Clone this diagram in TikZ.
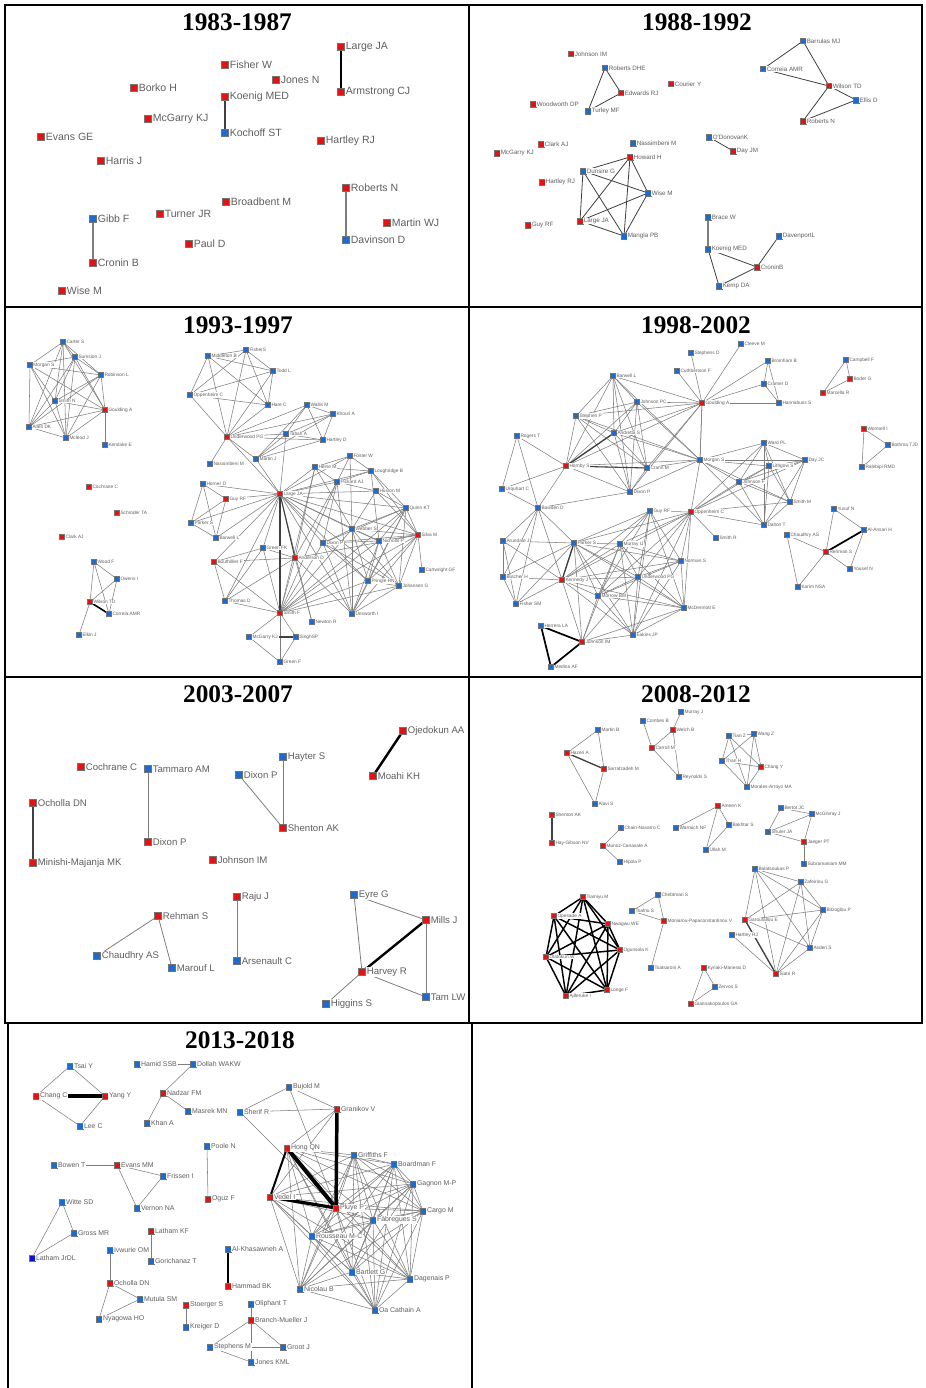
\documentclass[tikz,border=0pt]{standalone}
\usepackage{fontspec}
\setmainfont{Liberation Serif}
\newfontfamily\labf{Liberation Sans}
\definecolor{nred}{RGB}{228,18,18}
\definecolor{nblue}{RGB}{28,108,208}
\definecolor{ndblue}{RGB}{10,20,200}
\definecolor{labgray}{RGB}{95,95,95}
\definecolor{egray}{RGB}{125,125,125}
\pgfdeclarelayer{bg}
\pgfsetlayers{bg,main}
\tikzset{
 sq/.style={rectangle, draw=black!55, line width=0.25pt, inner sep=0pt, minimum size=3.8pt},
 lab/.style={font=\labf\fontsize{3.6}{4}\selectfont, text=labgray, inner sep=0.5pt, fill=white},
 ed/.style={draw=egray, line width=0.4pt},
 edm/.style={draw=black!75, line width=0.8pt},
 edt/.style={draw=black, line width=1.8pt},
 frame/.style={draw=black, line width=1pt},
 ttl/.style={font=\bfseries\fontsize{19}{20}\selectfont, inner sep=0pt},
}
\newcommand\redn[4]{\node[sq,fill=nred,label={[lab]east:#4}] (#1) at (#2,#3) {};}
\newcommand\bluen[4]{\node[sq,fill=nblue,label={[lab]east:#4}] (#1) at (#2,#3) {};}
\newcommand\myclique[2]{\foreach \ma [count=\mi] in {#2}{\foreach \mb [count=\mj] in {#2}{\ifnum\mj>\mi\relax\draw[#1] (\ma)--(\mb);\fi}}}
\newcommand\myedges[2]{\foreach \ma/\mb in {#2}{\draw[#1] (\ma)--(\mb);}}
\begin{document}
\begin{tikzpicture}[x=0.75pt,y=-0.75pt]
\useasboundingbox (0,0) rectangle (925,1388);
\begin{pgfonlayer}{bg}
\fill[white] (0,0) rectangle (925,1388);
\end{pgfonlayer}
% table frame
\draw[frame] (5,5) rectangle (922,1023);
\draw[frame] (469,5)--(469,1023);
\draw[frame] (5,307)--(922,307);
\draw[frame] (5,677)--(922,677);
\draw[frame] (8,1023)--(8,1388);
\draw[frame] (472,1023)--(472,1388);
% titles
\node[ttl] (t1) at (237,22) {1983-1987};
\node[ttl] (t2) at (697,22) {1988-1992};
\node[ttl] (t3) at (238,325) {1993-1997};
\node[ttl] (t4) at (696,325) {1998-2002};
\node[ttl] (t5) at (238,694) {2003-2007};
\node[ttl] (t6) at (696,694) {2008-2012};
\node[ttl] (t7) at (240,1040) {2013-2018};

% ---------- panel 1 ----------
\begin{scope}[sq/.append style={minimum size=5.2pt}, lab/.append style={font=\labf\fontsize{7.9}{8}\selectfont, inner sep=0.7pt}]
\redn{aLarge}{341}{47}{Large JA}
\redn{aFisher}{225}{65}{Fisher W}
\redn{aJones}{276}{80}{Jones N}
\redn{aBorko}{134}{88}{Borko H}
\redn{aKoenig}{225}{97}{Koenig MED}
\redn{aArm}{341}{92}{Armstrong CJ}
\redn{aMcG}{148}{119}{McGarry KJ}
\bluen{aKoch}{225}{133}{Kochoff ST}
\redn{aEvans}{41}{137}{Evans GE}
\redn{aHart}{321}{141}{Hartley RJ}
\redn{aHarris}{101}{161}{Harris J}
\redn{aRob}{346}{188}{Roberts N}
\redn{aBroad}{226}{202}{Broadbent M}
\redn{aTurner}{160}{214}{Turner JR}
\bluen{aGibb}{93}{219}{Gibb F}
\redn{aMartin}{387}{223}{Martin WJ}
\redn{aPaul}{189}{244}{Paul D}
\bluen{aDav}{346}{240}{Davinson D}
\redn{aCronin}{93}{263}{Cronin B}
\redn{aWise}{62}{291}{Wise M}
\begin{pgfonlayer}{bg}
\draw[edt] (aLarge)--(aArm);
\draw[edm] (aKoenig)--(aKoch);
\draw[ed,line width=0.9pt] (aGibb)--(aCronin);
\draw[ed,line width=0.9pt] (aRob)--(aDav);
\end{pgfonlayer}
\end{scope}

% ---------- panel 2 ----------
\begin{scope}[sq/.append style={minimum size=4pt}, lab/.append style={font=\labf\fontsize{4.7}{5}\selectfont}]
\redn{bJohnIM}{571}{54}{Johnson IM}
\bluen{bRobDHE}{605}{68}{Roberts DHE}
\redn{bEdw}{621}{93}{Edwards RJ}
\bluen{bTurley}{588}{111}{Turley MF}
\redn{bWood}{533}{104}{Woodworth DP}
\redn{bCourier}{671}{84}{Courier Y}
\bluen{bBarr}{803}{41}{Barrulas MJ}
\bluen{bCorr}{763}{69}{Correia AMR}
\redn{bWilson}{829}{86}{Wilson TD}
\bluen{bEllis}{856}{100}{Ellis D}
\redn{bRobN}{803}{121}{Roberts N}
\bluen{bODon}{709}{137}{O'DonovanK}
\redn{bDay}{733}{151}{Day JM}
\redn{bClark}{541}{144}{Clark AJ}
\bluen{bNass}{633}{143}{Nassimbeni M}
\redn{bMcG}{497}{153}{McGarry KJ}
\redn{bHoward}{630}{157}{Howard H}
\bluen{bDuns}{583}{171}{Dunsire G}
\redn{bHart}{542}{182}{Hartley RJ}
\bluen{bWise}{648}{193}{Wise M}
\redn{bLarge}{580}{221}{Large JA}
\redn{bGuy}{528}{225}{Guy RF}
\bluen{bMangla}{624}{236}{Mangla PB}
\bluen{bBrace}{708}{217}{Brace W}
\bluen{bKoenig}{708}{249}{Koenig MED}
\bluen{bDaven}{779}{236}{DavenportL}
\redn{bCronin}{757}{267}{CroninB}
\bluen{bKemp}{719}{286}{Kemp DA}
\begin{pgfonlayer}{bg}
\myedges{edm,line width=0.6pt}{bRobDHE/bEdw,bRobDHE/bTurley,bEdw/bTurley,bBarr/bCorr,bBarr/bWilson,bCorr/bWilson,bWilson/bEllis,bWilson/bRobN,bEllis/bRobN,bODon/bDay,bKoenig/bCronin,bKoenig/bKemp,bCronin/bKemp,bCronin/bDaven}
\myclique{edm,line width=0.6pt}{bHoward,bDuns,bWise,bLarge,bMangla}
\draw[ed,line width=0.8pt] (bBrace)--(bKoenig);
\end{pgfonlayer}
\end{scope}

% ---------- panel 3 ----------
\begin{scope}[sq/.append style={minimum size=3.6pt}]
\bluen{cCarter}{63}{342}{Carter S}
\bluen{cSums}{75}{357}{Sumsion J}
\bluen{cMorgan}{30}{365}{Morgan S}
\bluen{cRob}{101}{375}{Robinson L}
\bluen{cSmithN}{55}{401}{Smith N}
\redn{cGould}{105}{410}{Goulding A}
\bluen{cAllen}{29}{427}{Allen DK}
\bluen{cMcleod}{66}{438}{Mcleod J}
\bluen{cKers}{105}{445}{Kerslake E}
\redn{cCochrane}{89}{487}{Cochrane C}
\redn{cSchroder}{117}{513}{Schroder TA}
\redn{cClark}{62}{537}{Clark AJ}
\bluen{cWood}{94}{562}{Wood F}
\bluen{cOwens}{117}{579}{Owens I}
\redn{cWilson}{90}{602}{Wilson TD}
\bluen{cCorreia}{109}{614}{Correia AMR}
\bluen{cElkin}{79}{635}{Elkin J}
\bluen{cFisherS}{246}{350}{FisherS}
\bluen{cMidd}{208}{356}{Middleton B}
\bluen{cTodd}{273}{371}{Todd L}
\bluen{cOpp}{190}{395}{Oppenheim C}
\bluen{cHare}{268}{405}{Hare C}
\bluen{cWallis}{307}{405}{Wallis M}
\bluen{cKhouri}{333}{414}{Khouri A}
\redn{cUnder}{227}{437}{Underwood PG}
\bluen{cTabah}{286}{434}{Tabah A}
\bluen{cHartD}{323}{440}{Hartley D}
\bluen{cMartin}{256}{459}{Martin J}
\bluen{cNass}{210}{464}{Nassimbeni M}
\bluen{cFoster}{350}{456}{Foster W}
\bluen{cHeine}{315}{467}{Heine M}
\bluen{cLough}{371}{471}{Loughridge B}
\bluen{cPick}{337}{482}{Pickard AJ}
\bluen{cHorner}{203}{484}{Horner D}
\redn{cLarge}{280}{494}{Large JA}
\bluen{cHuston}{376}{491}{Huston M}
\redn{cGuy}{226}{499}{Guy RF}
\bluen{cQuinn}{406}{508}{Quinn KT}
\bluen{cParker}{191}{523}{Parker S}
\bluen{cWebber}{352}{529}{Webber S}
\redn{cSilva}{418}{535}{Silva M}
\bluen{cBarwell}{216}{538}{Barwell L}
\bluen{cNich}{379}{541}{Nicholls P}
\bluen{cDixon}{323}{543}{Dixon P}
\bluen{cGreenFK}{263}{548}{Green FK}
\redn{cAnd}{295}{558}{Anderson D}
\redn{cBouth}{214}{562}{Bouthillier F}
\bluen{cCart}{422}{570}{Cartwright GF}
\bluen{cPringle}{368}{581}{Pringle RN}
\bluen{cJoh}{399}{586}{Johansen G}
\bluen{cThomas}{225}{601}{Thomas D}
\redn{cSmithF}{280}{613}{Smith F}
\bluen{cUns}{352}{614}{Unsworth I}
\bluen{cNewton}{312}{622}{Newton R}
\bluen{cMcG}{249}{637}{McGarry KJ}
\bluen{cSingh}{296}{637}{SinghSP}
\bluen{cGreenF}{280}{662}{Green F}
\begin{pgfonlayer}{bg}
\myclique{ed}{cCarter,cSums,cMorgan,cRob,cSmithN,cGould,cAllen,cMcleod}
\myedges{ed}{cGould/cKers,cWood/cOwens,cWood/cWilson,cWood/cCorreia,cOwens/cWilson,cOwens/cCorreia,cWilson/cElkin}
\draw[edt,line width=1.2pt] (cWilson)--(cCorreia);
\myclique{ed}{cMidd,cFisherS,cTodd,cOpp,cHare,cUnder}
\myclique{ed}{cWallis,cKhouri,cTabah,cHartD,cMartin,cUnder}
\myclique{ed}{cHorner,cGuy,cParker,cBarwell}
\myclique{ed}{cBouth,cThomas,cSmithF,cGreenFK,cAnd}
\myclique{ed}{cSmithF,cMcG,cSingh,cGreenF}
\myclique{ed}{cHeine,cFoster,cLough,cPick}
\myclique{ed}{cQuinn,cWebber,cSilva,cNich,cPringle,cJoh,cUns,cDixon}
\myedges{ed}{cUnder/cNass,cUnder/cLarge,cTabah/cLarge,cMartin/cLarge,cLarge/cHorner,cLarge/cGuy,cLarge/cParker,cLarge/cBarwell,cLarge/cGreenFK,cLarge/cHeine,cLarge/cPick,cLarge/cHuston,cLarge/cQuinn,cLarge/cWebber,cLarge/cSilva,cLarge/cNich,cLarge/cDixon,cLarge/cPringle,cLarge/cJoh,cLarge/cUns,cLarge/cNewton,cLarge/cBouth,cLarge/cFoster,cLarge/cLough,cLarge/cThomas,cSmithF/cWebber,cSmithF/cSilva,cSmithF/cPringle,cSmithF/cJoh,cSmithF/cDixon,cSmithF/cNich,cSmithF/cQuinn,cSmithF/cPick,cSmithF/cHeine,cAnd/cNewton,cAnd/cUns,cAnd/cHeine,cAnd/cPick,cAnd/cSilva,cSilva/cCart,cSilva/cHuston,cSilva/cLough,cHuston/cQuinn,cHuston/cWebber,cPick/cHuston,cPick/cDixon,cPick/cUns,cHeine/cWebber,cLough/cQuinn,cLough/cNich,cFoster/cWebber}
\draw[edm] (cLarge)--(cAnd);
\draw[edm,line width=1.1pt] (cLarge)--(cSmithF);
\draw[edm] (cMcG)--(cSingh);
\end{pgfonlayer}
\end{scope}

% ---------- panel 4 ----------
\begin{scope}[sq/.append style={minimum size=3.6pt}]
\bluen{dStephD}{691}{353}{Stephens D}
\bluen{dCuth}{677}{371}{Cuthbertson F}
\bluen{dBarwell}{613}{376}{Barwell L}
\redn{dGould}{702}{403}{Goulding A}
\bluen{dJohnPC}{637}{402}{Johnson PC}
\bluen{dStephP}{576}{416}{Stephen P}
\bluen{dRogers}{517}{436}{Rogers T}
\bluen{dAndretta}{614}{433}{Andretta S}
\redn{dHornby}{566}{466}{Hornby S}
\bluen{dCrann}{647}{468}{Crann M}
\bluen{dMorgan}{700}{460}{Morgan S}
\bluen{dUrq}{502}{489}{Urquhart C}
\bluen{dDixon}{630}{492}{Dixon P}
\bluen{dCleeve}{741}{344}{Cleeve M}
\bluen{dBromham}{768}{361}{Bromham B}
\bluen{dCramer}{764}{384}{Cramer D}
\bluen{dHanna}{779}{403}{Hannabuss S}
\bluen{dCampbell}{846}{360}{Campbell F}
\redn{dBoder}{850}{379}{Boder G}
\redn{dMarcella}{823}{393}{Marcella R}
\redn{dWormell}{864}{429}{Wormell I}
\bluen{dBothma}{888}{445}{Bothma TJD}
\bluen{dWard}{764}{443}{Ward PL}
\bluen{dDay}{805}{460}{Day JC}
\bluen{dLith}{769}{466}{Lithgow S}
\bluen{dRaleb}{862}{467}{Ralebipi RMD}
\bluen{dJohnF}{739}{482}{Johnson F}
\bluen{dSmithM}{790}{502}{Smith M}
\bluen{dYusuf}{834}{509}{Yusuf N}
\bluen{dAlAns}{864}{530}{Al-Ansari H}
\bluen{dDalton}{764}{525}{Dalton T}
\bluen{dChaud}{787}{535}{Chaudhry AS}
\bluen{dSmithR}{716}{538}{Smith R}
\redn{dRehman}{826}{552}{Rehman S}
\bluen{dYousef}{850}{569}{Yousef N}
\bluen{dKarim}{798}{587}{Karim NSA}
\bluen{dBawden}{538}{508}{Bawden D}
\bluen{dGuy}{650}{511}{Guy RF}
\redn{dOpp}{691}{512}{Oppenheim C}
\bluen{dArund}{503}{541}{Arundale J}
\bluen{dParker}{574}{543}{Parker S}
\bluen{dMurray}{620}{544}{Murray IJ}
\bluen{dNorman}{681}{561}{Norman S}
\bluen{dButcher}{503}{577}{Butcher H}
\redn{dKennedy}{562}{580}{Kennedy J}
\bluen{dUnder}{638}{577}{Underwood PG}
\bluen{dMorrow}{598}{596}{Morrow BM}
\bluen{dFisher}{516}{604}{Fisher SM}
\bluen{dMcDer}{684}{608}{McDermott E}
\bluen{dHerrera}{541}{626}{Herrera LA}
\bluen{dEakins}{633}{635}{Eakins JP}
\redn{dJohnIM}{582}{642}{Johnson IM}
\bluen{dMedina}{551}{667}{Medina AF}
\begin{pgfonlayer}{bg}
\myedges{ed}{dCleeve/dGould,dStephD/dGould,dCuth/dGould,dBromham/dGould,dCramer/dGould,dHanna/dGould,dBromham/dCramer,dBromham/dHanna,dCramer/dHanna,dCampbell/dBoder,dCampbell/dMarcella,dBoder/dMarcella,dWormell/dBothma,dWormell/dRaleb,dBothma/dRaleb,dYusuf/dAlAns,dYusuf/dRehman,dAlAns/dYousef,dRehman/dYousef,dRehman/dChaud,dRehman/dKarim,dChaud/dKarim,dRogers/dHornby,dRogers/dUrq,dUrq/dHornby,dRogers/dBawden,dUrq/dBawden,dBawden/dHornby,dBawden/dDixon,dOpp/dSmithR,dGould/dMorgan}
\myclique{ed}{dBarwell,dJohnPC,dStephP,dAndretta,dHornby,dCrann,dDixon,dMorgan,dGould}
\myclique{ed}{dMorgan,dWard,dLith,dJohnF,dDay,dSmithM,dOpp,dDalton}
\myclique{ed}{dParker,dKennedy,dMurray,dUnder,dMorrow,dGuy,dOpp,dNorman,dMcDer,dEakins}
\myclique{ed}{dBawden,dArund,dButcher,dFisher,dParker,dKennedy}
\myedges{ed}{dJohnIM/dKennedy,dJohnIM/dUnder,dJohnIM/dMorrow,dJohnIM/dEakins,dJohnIM/dMcDer,dJohnIM/dMurray,dJohnIM/dParker}
\draw[edm,line width=1pt] (dAndretta)--(dHornby);
\draw[edm] (dHornby)--(dCrann);
\draw[edm,line width=1pt] (dParker)--(dKennedy);
\draw[edt,line width=1.3pt] (dAlAns)--(dRehman);
\myedges{edt,line width=1.3pt}{dJohnIM/dHerrera,dJohnIM/dMedina,dHerrera/dMedina}
\end{pgfonlayer}
\end{scope}

% ---------- panel 5 ----------
\begin{scope}[sq/.append style={minimum size=5.2pt}, lab/.append style={font=\labf\fontsize{7.2}{8}\selectfont, inner sep=0.7pt}]
\redn{eOjed}{403}{731}{Ojedokun AA}
\bluen{eHayter}{283}{757}{Hayter S}
\redn{eCoch}{81}{767}{Cochrane C}
\bluen{eTamm}{148}{769}{Tammaro AM}
\bluen{eDixonB}{239}{775}{Dixon P}
\redn{eMoahi}{373}{776}{Moahi KH}
\redn{eOcholla}{33}{803}{Ocholla DN}
\redn{eShenton}{283}{828}{Shenton AK}
\redn{eDixonR}{148}{842}{Dixon  P}
\redn{eJohnIM}{213}{860}{Johnson IM}
\redn{eMinishi}{33}{863}{Minishi-Majanja MK}
\bluen{eEyre}{354}{895}{Eyre G}
\redn{eRaju}{237}{897}{Raju J}
\redn{eRehman}{158}{916}{Rehman S}
\redn{eMills}{426}{920}{Mills J}
\bluen{eChaud}{97}{956}{Chaudhry AS}
\bluen{eArsen}{237}{961}{Arsenault C}
\bluen{eMarouf}{172}{968}{Marouf L}
\redn{eHarvey}{362}{972}{Harvey R}
\bluen{eTam}{426}{997}{Tam LW}
\bluen{eHiggins}{326}{1004}{Higgins S}
\begin{pgfonlayer}{bg}
\draw[edt] (eOjed)--(eMoahi);
\draw[edm,line width=1.3pt] (eOcholla)--(eMinishi);
\draw[edt] (eMills)--(eHarvey);
\myedges{ed,line width=0.6pt}{eTamm/eDixonR,eHayter/eShenton,eDixonB/eShenton,eRaju/eArsen,eRehman/eChaud,eRehman/eMarouf,eEyre/eMills,eEyre/eHarvey,eMills/eTam,eHarvey/eTam,eHarvey/eHiggins}
\end{pgfonlayer}
\end{scope}

% ---------- panel 6 ----------
\begin{scope}[sq/.append style={minimum size=3.6pt}]
\bluen{fMurray}{681}{712}{Murray J}
\bluen{fCombes}{643}{721}{Combes B}
\bluen{fMartin}{598}{730}{Martin B}
\redn{fWelch}{673}{730}{Welch B}
\redn{fCarroll}{652}{748}{Carroll M}
\redn{fHazeri}{567}{753}{Hazeri A}
\redn{fSarraf}{604}{769}{Sarrafzadeh M}
\bluen{fReyn}{679}{777}{Reynolds S}
\bluen{fAlavi}{595}{804}{Alavi S}
\redn{fShenton}{552}{815}{Shenton AK}
\redn{fAmeen}{718}{806}{Ameen K}
\bluen{fWarr}{676}{828}{Warraich NF}
\bluen{fChain}{621}{828}{Chain-Navarro C}
\redn{fHay}{552}{843}{Hay-Gibson NV}
\redn{fMunoz}{603}{846}{Munoz-Canavate A}
\bluen{fUllah}{706}{850}{Ullah M}
\bluen{fHipola}{620}{862}{Hipola P}
\redn{fTiam}{583}{897}{Tiamiyu M}
\bluen{fCheb}{658}{895}{Chebtmari S}
\bluen{fTsaf}{632}{911}{Tsafnu S}
\redn{fOpes}{554}{916}{Opesade A}
\redn{fNwag}{608}{924}{Nwagwu WE}
\redn{fMoni}{664}{921}{Moniarou-Papaconstantinou V}
\redn{fOgun}{620}{950}{Ogunsola K}
\redn{fOlat}{546}{957}{Olatokun W}
\bluen{fTsat}{651}{968}{Tsatsaroni A}
\redn{fKyr}{704}{968}{Kyriaki-Manessi D}
\redn{fLonge}{607}{990}{Longe F}
\redn{fAjif}{566}{996}{Ajiferuke I}
\bluen{fZervos}{715}{987}{Zervos S}
\redn{fGiann}{691}{1004}{Giannakopoulos GA}
\bluen{fTian}{729}{736}{Tian Z}
\bluen{fWang}{754}{734}{Wang Z}
\bluen{fThan}{722}{761}{Than H}
\redn{fChang}{761}{767}{Chang Y}
\bluen{fMorales}{747}{787}{Morales-Arroyo MA}
\bluen{fBertot}{781}{808}{Bertot JC}
\bluen{fMcGil}{812}{814}{McGilvray J}
\bluen{fBakh}{729}{825}{Bakhtar S}
\bluen{fShuler}{768}{832}{Shuler JA}
\redn{fJaeger}{804}{842}{Jaeger PT}
\bluen{fSubra}{804}{864}{Subramaniam MM}
\bluen{fBalat}{755}{869}{Balatsoukas P}
\bluen{fZaf}{801}{882}{Zafeiriou G}
\bluen{fBitz}{823}{910}{Bitzoglou P}
\redn{fGarou}{745}{920}{Garoufallou E}
\bluen{fHart}{732}{935}{Hartley RJ}
\bluen{fAsderi}{810}{948}{Asderi S}
\redn{fSiatri}{776}{974}{Siatri R}
\begin{pgfonlayer}{bg}
\myedges{ed}{fMartin/fHazeri,fMartin/fSarraf,fHazeri/fAlavi,fSarraf/fAlavi,fMurray/fWelch,fCombes/fCarroll,fWelch/fCarroll,fWelch/fReyn,fCarroll/fReyn,fMunoz/fChain,fMunoz/fHipola,fAmeen/fWarr,fAmeen/fBakh,fAmeen/fUllah,fBakh/fUllah,fBertot/fMcGil,fBertot/fShuler,fMcGil/fShuler,fMcGil/fJaeger,fShuler/fJaeger,fJaeger/fSubra,fCheb/fTsaf,fCheb/fMoni,fTsaf/fMoni,fMoni/fTsat,fKyr/fZervos,fKyr/fGiann,fZervos/fGiann,fHart/fSiatri}
\myclique{ed}{fTian,fWang,fThan,fChang,fMorales}
\myclique{ed}{fBalat,fZaf,fBitz,fGarou,fAsderi,fSiatri}
\draw[edm,line width=1pt] (fHazeri)--(fSarraf);
\draw[edm,line width=1pt] (fShenton)--(fHay);
\draw[edm,line width=1pt] (fGarou)--(fSiatri);
\myclique{edt,line width=1.1pt}{fTiam,fOpes,fNwag,fOgun,fLonge,fAjif,fOlat}
\end{pgfonlayer}
\end{scope}

% ---------- panel 7 ----------
\begin{scope}[sq/.append style={minimum size=4.4pt}, lab/.append style={font=\labf\fontsize{5.2}{6}\selectfont}]
\bluen{gTsai}{70}{1066}{Tsai Y}
\bluen{gHamid}{137}{1064}{Hamid SSB}
\bluen{gDollah}{193}{1064}{Dollah WAKW}
\redn{gChang}{36}{1096}{Chang C}
\redn{gYang}{105}{1096}{Yang Y}
\redn{gNadzar}{163}{1093}{Nadzar FM}
\bluen{gMasrek}{188}{1111}{Masrek MN}
\bluen{gKhan}{147}{1123}{Khan A}
\bluen{gLee}{80}{1126}{Lee C}
\bluen{gPoole}{207}{1146}{Poole N}
\bluen{gBowen}{54}{1165}{Bowen T}
\redn{gEvans}{117}{1165}{Evans MM}
\bluen{gFrissen}{163}{1176}{Frissen I}
\redn{gOguz}{208}{1199}{Oguz F}
\bluen{gWitte}{62}{1202}{Witte SD}
\bluen{gVernon}{137}{1208}{Vernon NA}
\bluen{gGross}{74}{1233}{Gross MR}
\redn{gLathamKF}{151}{1231}{Latham KF}
\bluen{gAlKh}{228}{1249}{Al-Khasawneh A}
\bluen{gIvw}{110}{1250}{Ivwurie OM}
\node[sq,fill=ndblue,label={[lab]east:Latham JrDL}] (gLathamJr) at (32,1258) {};
\bluen{gGori}{151}{1261}{Gorichanaz T}
\redn{gOcholla}{110}{1283}{Ocholla DN}
\redn{gHammad}{228}{1286}{Hammad BK}
\bluen{gMutula}{140}{1299}{Mutula SM}
\redn{gStoerger}{186}{1305}{Stoerger S}
\bluen{gOliphant}{251}{1304}{Oliphant T}
\bluen{gNyag}{99}{1319}{Nyagowa HO}
\redn{gBranch}{251}{1320}{Branch-Mueller J}
\bluen{gKreiger}{186}{1327}{Kreiger D}
\bluen{gStephens}{210}{1347}{Stephens M}
\bluen{gGroot}{283}{1347}{Groot J}
\bluen{gJones}{251}{1362}{Jones KML}
\bluen{gBujold}{289}{1087}{Bujold M}
\bluen{gSherif}{240}{1112}{Sherif R}
\redn{gGranikov}{337}{1109}{Granikov V}
\redn{gHong}{287}{1148}{Hong QN}
\bluen{gGriff}{354}{1155}{Griffiths F}
\bluen{gBoard}{394}{1164}{Boardman F}
\bluen{gGagnon}{413}{1184}{Gagnon M-P}
\redn{gVedel}{270}{1197}{Vedel I}
\redn{gPluye}{336}{1208}{Pluye P}
\bluen{gCargo}{423}{1211}{Cargo M}
\bluen{gFab}{373}{1220}{Fàbregues S}
\bluen{gRouss}{312}{1236}{Rousseau M-C}
\bluen{gBart}{352}{1272}{Bartlett G}
\bluen{gDag}{410}{1279}{Dagenais P}
\bluen{gNicolau}{300}{1289}{Nicolau B}
\bluen{gOCath}{375}{1310}{Oa Cathain A}
\begin{pgfonlayer}{bg}
\myedges{ed}{gTsai/gChang,gTsai/gYang,gChang/gLee,gYang/gLee,gHamid/gDollah,gDollah/gNadzar,gNadzar/gKhan,gNadzar/gMasrek,gPoole/gOguz,gBowen/gEvans,gEvans/gFrissen,gEvans/gVernon,gFrissen/gVernon,gWitte/gGross,gWitte/gLathamJr,gGross/gLathamJr,gLathamKF/gGori,gIvw/gOcholla,gOcholla/gMutula,gOcholla/gNyag,gMutula/gNyag,gStoerger/gKreiger,gOliphant/gBranch,gBranch/gJones,gBranch/gStephens,gBranch/gGroot,gStephens/gGroot,gStephens/gJones,gBujold/gSherif,gBujold/gGranikov,gSherif/gGranikov,gBujold/gPluye,gSherif/gPluye,gGranikov/gHong,gGranikov/gVedel}
\myclique{ed}{gHong,gVedel,gPluye,gGriff,gBoard,gGagnon,gCargo,gFab,gRouss,gBart,gDag,gNicolau,gOCath}
\draw[edt,line width=2.4pt] (gChang)--(gYang);
\draw[edt,line width=2.2pt] (gAlKh)--(gHammad);
\draw[edt,line width=3pt] (gHong)--(gPluye);
\draw[edt,line width=2.6pt] (gGranikov)--(gPluye);
\draw[edt,line width=2.4pt] (gVedel)--(gPluye);
\draw[edt,line width=1.5pt] (gHong)--(gVedel);
\end{pgfonlayer}
\end{scope}
\end{tikzpicture}
\end{document}
